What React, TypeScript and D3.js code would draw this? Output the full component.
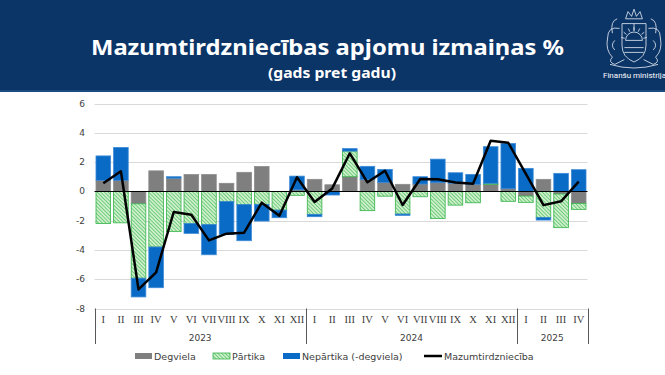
import React, { useEffect, useRef } from 'react';
import * as d3 from 'd3';

const months = ['I', 'II', 'III', 'IV', 'V', 'VI', 'VII', 'VIII', 'IX', 'X', 'XI', 'XII',
  'I', 'II', 'III', 'IV', 'V', 'VI', 'VII', 'VIII', 'IX', 'X', 'XI', 'XII',
  'I', 'II', 'III', 'IV'];
const years = [
  { label: '2023', count: 12 },
  { label: '2024', count: 12 },
  { label: '2025', count: 4 },
];

const degviela = [0.75, 0.75, -0.85, 1.4, 0.9, 1.15, 1.15, 0.55, 1.3, 1.7, 0, 0.1,
  0.82, 0.45, 1.0, 0.8, 0.6, 0.48, 0.5, 0.59, 0.55, 0.48, 0.48, 0.18,
  -0.32, 0.82, -0.18, -0.82];
const partika = [-2.2, -2.15, -5.08, -3.8, -2.75, -2.2, -2.27, -0.7, -0.9, -0.9, -1.28, -0.27,
  -1.57, 0, 1.75, -1.32, -0.33, -1.55, -0.37, -1.85, -0.94, -0.78, 0.07, -0.68,
  -0.43, -1.78, -2.3, -0.41];
const nepartika = [1.67, 2.25, -1.28, -2.78, 0.1, -0.67, -2.06, -2.24, -2.47, -1.13, -0.52, 0.94,
  -0.16, -0.25, 0.17, 0.91, 0.9, -0.09, 0.5, 1.61, 0.72, 0.68, 2.5, 3.09,
  1.57, -0.18, 1.23, 1.48];
const kopa = [0.55, 1.37, -6.7, -5.53, -1.41, -1.6, -3.35, -2.89, -2.82, -0.77, -1.66, 0.96,
  -0.73, 0.2, 2.6, 0.62, 1.41, -0.93, 0.84, 0.82, 0.61, 0.52, 3.45, 3.32,
  1.2, -0.94, -0.68, 0.66];
const yTicks = [-8, -6, -4, -2, 0, 2, 4, 6];

const seriesKeys = ['degviela', 'partika', 'nepartika'];
const seriesStyle = {
  degviela: { fill: '#7f7f7f', stroke: '#8c8c8c', label: 'Degviela' },
  partika: { fill: 'url(#hatch)', stroke: '#35b24a', label: 'Pārtika' },
  nepartika: { fill: '#0a6bc6', stroke: '#3d8ad6', label: 'Nepārtika (-degviela)' },
};

const W = 665;
const H = 375;

const App = () => {
  const svgRef = useRef<SVGSVGElement>(null);

  useEffect(() => {
    const svg = d3.select(svgRef.current);
    svg.selectAll('*').remove();

    const left = 94.5, right = 587.5, top = 103.5, bottom = 308.5;
    const font = 'DejaVu Sans, Verdana, sans-serif';

    // header band
    svg.append('rect').attr('x', 0).attr('y', 0).attr('width', W).attr('height', 92).attr('fill', '#0b3467');
    svg.append('rect').attr('x', 0).attr('y', 90).attr('width', W).attr('height', 2).attr('fill', '#1d4a80');
    svg.append('text')
      .attr('x', 327.5).attr('y', 55)
      .attr('text-anchor', 'middle')
      .attr('font-family', 'Noto Sans, sans-serif')
      .attr('font-weight', 700)
      .attr('font-size', 21.5)
      .attr('fill', '#fff')
      .attr('textLength', 473)
      .attr('lengthAdjust', 'spacingAndGlyphs')
      .text('Mazumtirdzniecības apjomu izmaiņas %');
    svg.append('text')
      .attr('x', 332).attr('y', 78)
      .attr('text-anchor', 'middle')
      .attr('font-family', 'Noto Sans, sans-serif')
      .attr('font-weight', 700)
      .attr('font-size', 14)
      .attr('fill', '#fff')
      .attr('textLength', 128)
      .attr('lengthAdjust', 'spacingAndGlyphs')
      .text('(gads pret gadu)');

    // simple emblem outline
    const logo = svg.append('g')
      .attr('transform', 'translate(634,38) scale(1.2) translate(-634,-38)')
      .attr('fill', 'none').attr('stroke', '#dfe6f0').attr('stroke-width', 0.7);
    logo.append('path').attr('d', 'M624,26 L644,26 L644,44 Q644,54 634,58 Q624,54 624,44 Z');
    logo.append('path').attr('d', 'M627,40 A7,7 0 0 1 641,40 Z');
    d3.range(7).forEach(k => {
      const a = Math.PI + (k + 0.5) * Math.PI / 7;
      logo.append('line')
        .attr('x1', 634 + 8 * Math.cos(a)).attr('y1', 40 + 8 * Math.sin(a))
        .attr('x2', 634 + 11 * Math.cos(a)).attr('y2', 40 + 11 * Math.sin(a));
    });
    logo.append('path').attr('d', 'M626,46 L642,46 M626,50 L642,50 M634,26 L634,32');
    logo.append('path').attr('d', 'M622,30 Q612,28 612,38 Q610,48 616,54 Q612,58 618,60 L626,56');
    logo.append('path').attr('d', 'M646,30 Q656,28 656,38 Q658,48 652,54 Q656,58 650,60 L642,56');
    logo.append('path').attr('d', 'M616,34 Q614,24 620,22 M652,34 Q654,24 648,22');
    logo.append('path').attr('d', 'M618,40 Q614,44 618,48 M650,40 Q654,44 650,48');
    logo.append('path').attr('d', 'M627,22 L629,16 L632,20 L634,14 L636,20 L639,16 L641,22 Z');
    logo.append('path').attr('d', 'M614,60 Q634,66 654,60');
    svg.append('text')
      .attr('x', 603).attr('y', 78)
      .attr('font-family', 'Roboto, sans-serif')
      .attr('font-size', 8)
      .attr('fill', '#fff')
      .text('Finanšu ministrija');

    // patterns
    const defs = svg.append('defs');
    const pat = defs.append('pattern')
      .attr('id', 'hatch')
      .attr('patternUnits', 'userSpaceOnUse')
      .attr('width', 2.6).attr('height', 2.6)
      .attr('patternTransform', 'rotate(-45)');
    pat.append('rect').attr('width', 2.6).attr('height', 2.6).attr('fill', '#cdefcb');
    pat.append('line').attr('x1', 0).attr('y1', 0).attr('x2', 0).attr('y2', 2.6)
      .attr('stroke', '#45bd57').attr('stroke-width', 1.3);

    const x = d3.scaleBand<number>()
      .domain(d3.range(months.length))
      .range([left, right])
      .paddingInner(0.17)
      .paddingOuter(0.085);

    const y = d3.scaleLinear().domain([-8, 6]).range([bottom, top]);

    // gridlines + y labels
    svg.append('g').selectAll('line')
      .data(yTicks.filter(t => t !== 0))
      .enter().append('line')
      .attr('x1', left).attr('x2', right)
      .attr('y1', d => Math.round(y(d)) + 0.5).attr('y2', d => Math.round(y(d)) + 0.5)
      .attr('stroke', '#d9d9d9').attr('stroke-width', 1);

    svg.append('g').selectAll('text')
      .data(yTicks)
      .enter().append('text')
      .attr('x', 85).attr('y', d => y(d) + 3)
      .attr('text-anchor', 'end')
      .attr('font-family', font)
      .attr('font-size', 9)
      .attr('fill', '#404040')
      .text(d => d);

    // stacked bars
    const rows = months.map((m, i) => ({ i, degviela: degviela[i], partika: partika[i], nepartika: nepartika[i] }));
    const stacked = d3.stack<any>().keys(seriesKeys).offset(d3.stackOffsetDiverging)(rows);

    svg.append('g').selectAll('g')
      .data(stacked)
      .enter().append('g')
      .attr('fill', d => seriesStyle[d.key].fill)
      .attr('stroke', d => seriesStyle[d.key].stroke)
      .attr('stroke-width', 0.8)
      .selectAll('rect')
      .data(d => d.filter(p => p[1] - p[0] !== 0))
      .enter().append('rect')
      .attr('x', d => x(d.data.i))
      .attr('width', x.bandwidth())
      .attr('y', d => y(Math.max(d[0], d[1])))
      .attr('height', d => Math.abs(y(d[0]) - y(d[1])));

    // zero line
    svg.append('line')
      .attr('x1', left).attr('x2', right)
      .attr('y1', Math.round(y(0)) + 0.5).attr('y2', Math.round(y(0)) + 0.5)
      .attr('stroke', '#000').attr('stroke-width', 1);

    // total line
    const line = d3.line<number>()
      .x((d, i) => x(i) + x.bandwidth() / 2)
      .y(d => y(d));
    svg.append('path')
      .datum(kopa)
      .attr('d', line)
      .attr('fill', 'none')
      .attr('stroke', '#000')
      .attr('stroke-width', 2.5)
      .attr('stroke-linejoin', 'round');

    // category axis
    const step = x.step();
    const xAxis = svg.append('g');
    xAxis.selectAll('text')
      .data(months)
      .enter().append('text')
      .attr('x', (d, i) => x(i) + x.bandwidth() / 2)
      .attr('y', 323)
      .attr('text-anchor', 'middle')
      .attr('font-family', 'Liberation Serif, Times New Roman, serif')
      .attr('font-size', 10.5)
      .attr('fill', '#404040')
      .text(d => d);

    let start = 0;
    const bounds = [left];
    years.forEach(yr => {
      const x0 = left + start * step;
      const x1 = left + (start + yr.count) * step;
      bounds.push(x1);
      xAxis.append('text')
        .attr('x', (x0 + x1) / 2)
        .attr('y', 341)
        .attr('text-anchor', 'middle')
        .attr('font-family', font)
        .attr('font-size', 9)
        .attr('fill', '#404040')
        .text(yr.label);
      start += yr.count;
    });
    xAxis.selectAll('line.sep')
      .data(bounds)
      .enter().append('line')
      .attr('x1', d => Math.round(d) + 0.5).attr('x2', d => Math.round(d) + 0.5)
      .attr('y1', bottom).attr('y2', 344)
      .attr('stroke', '#595959').attr('stroke-width', 1);

    // legend
    const legendItems = [
      { key: 'degviela', x: 135 },
      { key: 'partika', x: 213 },
      { key: 'nepartika', x: 283 },
    ];
    const lg = svg.append('g');
    legendItems.forEach(it => {
      const st = seriesStyle[it.key];
      lg.append('rect')
        .attr('x', it.x).attr('y', 353)
        .attr('width', 17).attr('height', 6)
        .attr('fill', st.fill)
        .attr('stroke', it.key === 'partika' ? st.stroke : 'none')
        .attr('stroke-width', 0.8);
      lg.append('text')
        .attr('x', it.x + 19).attr('y', 359.5)
        .attr('font-family', font)
        .attr('font-size', 9.5)
        .attr('fill', '#404040')
        .text(st.label);
    });
    lg.append('line')
      .attr('x1', 424).attr('x2', 442)
      .attr('y1', 356).attr('y2', 356)
      .attr('stroke', '#000').attr('stroke-width', 2.5);
    lg.append('text')
      .attr('x', 444).attr('y', 359.5)
      .attr('font-family', font)
      .attr('font-size', 9.5)
      .attr('fill', '#404040')
      .text('Mazumtirdzniecība');
  }, []);

  return (
    <div style={{ position: 'absolute', left: 0, top: 0 }}>
      <svg ref={svgRef} width={W} height={H} style={{ display: 'block', background: '#fff' }}></svg>
    </div>
  );
};

export default App;
